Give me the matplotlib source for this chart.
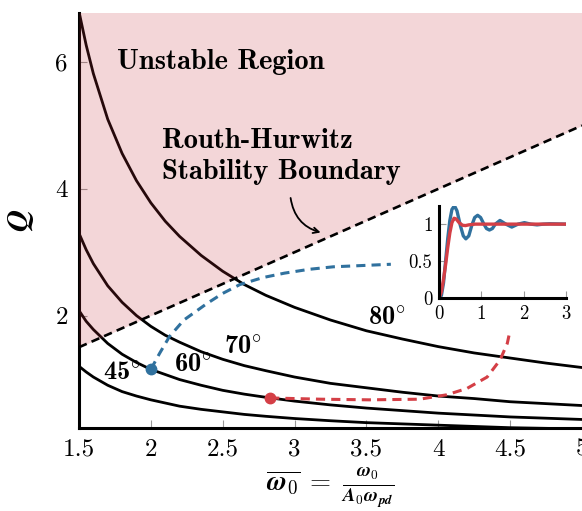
import matplotlib
matplotlib.use("Agg")
import matplotlib.pyplot as plt

plt.rcParams["font.family"] = "serif"
plt.rcParams["font.serif"] = ["cmr10"]
plt.rcParams["mathtext.fontset"] = "cm"
plt.rcParams["axes.formatter.use_mathtext"] = True

# normalised frequency samples
w0 = [1.5, 1.55, 1.6, 1.7, 1.8, 1.9, 2.0, 2.1, 2.2, 2.35, 2.5, 2.65, 2.8,
      3.0, 3.25, 3.5, 3.75, 4.0, 4.25, 4.5, 4.75, 5.0]

# Q for constant phase margin
q80 = [6.80, 6.27, 5.82, 5.10, 4.56, 4.13, 3.78, 3.49, 3.25, 2.95, 2.70, 2.49,
       2.32, 2.13, 1.93, 1.76, 1.63, 1.51, 1.41, 1.33, 1.25, 1.18]
q70 = [3.30, 3.04, 2.82, 2.47, 2.21, 2.00, 1.83, 1.69, 1.58, 1.43, 1.31, 1.21,
       1.13, 1.03, 0.93, 0.86, 0.79, 0.73, 0.69, 0.64, 0.61, 0.58]
q60 = [2.08, 1.91, 1.78, 1.56, 1.39, 1.26, 1.15, 1.07, 0.99, 0.90, 0.82, 0.76,
       0.71, 0.65, 0.59, 0.54, 0.50, 0.46, 0.43, 0.40, 0.38, 0.36]
q45 = [1.20, 1.11, 1.03, 0.90, 0.80, 0.73, 0.67, 0.62, 0.57, 0.52, 0.48, 0.44,
       0.41, 0.375, 0.34, 0.31, 0.29, 0.27, 0.25, 0.23, 0.22, 0.21]
pm_labels = ["45", "60", "70", "80"]
pm_label_pos = [(1.80, 1.09), (2.29, 1.22), (2.64, 1.50), (3.64, 1.96)]

# Routh-Hurwitz boundary Q = w0
rh_x = [1.5, 5.0]
rh_q = [1.5, 5.0]

# design trajectories
blue_x = [2.0, 2.06, 2.13, 2.23, 2.39, 2.50, 2.62, 2.78, 2.93, 3.10, 3.27, 3.47, 3.67]
blue_q = [1.15, 1.40, 1.67, 1.93, 2.19, 2.35, 2.49, 2.60, 2.67, 2.73, 2.77, 2.79, 2.81]
red_x = [2.83, 3.0, 3.18, 3.52, 3.87, 4.06, 4.20, 4.34, 4.43, 4.48, 4.50]
red_q = [0.70, 0.69, 0.68, 0.67, 0.68, 0.75, 0.85, 1.03, 1.30, 1.56, 1.77]

# step responses (inset)
t_blue = [0, 0.05, 0.1, 0.15, 0.2, 0.25, 0.3, 0.36, 0.42, 0.5, 0.57, 0.63, 0.7,
          0.77, 0.84, 0.91, 0.98, 1.05, 1.12, 1.19, 1.26, 1.33, 1.44, 1.58, 1.72,
          1.87, 2.02, 2.17, 2.32, 2.47, 2.62, 3.0]
y_blue = [0, 0.03, 0.2, 0.5, 0.8, 1.05, 1.2, 1.25, 1.18, 0.98, 0.84, 0.80, 0.84,
          0.98, 1.09, 1.12, 1.09, 1.01, 0.94, 0.92, 0.94, 1.0, 1.05, 1.0, 0.96,
          1.0, 1.02, 1.0, 0.99, 1.0, 1.005, 1.0]
t_red = [0, 0.05, 0.1, 0.15, 0.2, 0.25, 0.3, 0.35, 0.4, 0.47, 0.55, 0.62, 0.7, 0.85, 3.0]
y_red = [0, 0.08, 0.25, 0.45, 0.68, 0.88, 1.02, 1.08, 1.07, 1.02, 0.985, 0.98, 0.99, 1.0, 1.0]

BLUE = "#30719e"
RED = "#d43f46"

fig = plt.figure(figsize=(5.82, 5.11), dpi=100)
ax = fig.add_axes([0.1357, 0.163, 0.8643, 0.812])

for q in (q45, q60, q70, q80):
    ax.plot(w0, q, color="black", lw=2.0, zorder=2)

ax.fill_between(rh_x, rh_q, [7, 7], color="#c3323c", alpha=0.2, lw=0, zorder=3)
ax.plot(rh_x, rh_q, color="black", lw=1.9, dashes=(3.2, 2.0), zorder=4)

ax.plot(blue_x, blue_q, color=BLUE, lw=2.2, dashes=(3, 2), zorder=4)
ax.plot(red_x, red_q, color=RED, lw=2.2, dashes=(3, 2), zorder=4)
ax.plot(blue_x[0], blue_q[0], "o", color=BLUE, ms=7.5, zorder=5)
ax.plot(red_x[0], red_q[0], "o", color=RED, ms=7.5, zorder=5)

for lab, (px, py) in zip(pm_labels, pm_label_pos):
    ax.text(px, py, lab + r"$^{\circ}$", family="cmb10", fontsize=19,
            ha="center", va="center", zorder=6)

ax.text(1.762, 5.89, "Unstable Region", family="cmb10", fontsize=20.5,
        ha="left", va="baseline", zorder=6)
ax.text(2.075, 4.64, "Routh-Hurwitz", family="cmb10", fontsize=20.5,
        ha="left", va="baseline", zorder=6)
ax.text(2.075, 4.16, "Stability Boundary", family="cmb10", fontsize=20.5,
        ha="left", va="baseline", zorder=6)
ax.annotate("", xy=(3.2, 3.30), xytext=(2.97, 3.90),
            arrowprops=dict(arrowstyle="->", color="black", lw=1.3,
                            connectionstyle="arc3,rad=0.35"), zorder=6)

ax.set_xlim(1.5, 5)
ax.set_ylim(0.23, 6.78)
ax.set_xticks([1.5, 2, 2.5, 3, 3.5, 4, 4.5, 5])
ax.set_xticklabels(["1.5", "2", "2.5", "3", "3.5", "4", "4.5", "5"])
ax.set_yticks([2, 4, 6])
ax.set_yticklabels(["2", "4", "6"])
ax.tick_params(direction="in", length=6, width=0.8, color="#999999",
               labelsize=18, pad=8)
for s in ("top", "right"):
    ax.spines[s].set_visible(False)
for s in ("left", "bottom"):
    ax.spines[s].set_linewidth(2.2)
ax.set_xlabel(r"$\overline{\boldsymbol{\omega}_\mathbf{0}}\;=\;"
              r"\frac{\boldsymbol{\omega}_\mathbf{0}}"
              r"{\boldsymbol{A}_\mathbf{0}\boldsymbol{\omega}_{\boldsymbol{pd}}}$",
              fontsize=19.5, labelpad=3)
ax.set_ylabel(r"$\boldsymbol{Q}$", fontsize=22, labelpad=14)

# inset with step responses
ins = fig.add_axes([0.7548, 0.4174, 0.2172, 0.180])
ins.plot(t_blue, y_blue, color=BLUE, lw=2.4)
ins.plot(t_red, y_red, color=RED, lw=2.4)
ins.set_xlim(0, 3)
ins.set_ylim(0, 1.25)
ins.set_xticks([0, 1, 2, 3])
ins.set_xticklabels(["0", "1", "2", "3"])
ins.set_yticks([0, 0.5, 1])
ins.set_yticklabels(["0", "0.5", "1"])
ins.tick_params(direction="in", length=5, width=0.8, color="#999999",
                labelsize=13.5, pad=5)
for s in ("top", "right"):
    ins.spines[s].set_visible(False)
for s in ("left", "bottom"):
    ins.spines[s].set_linewidth(2.2)
ins.patch.set_alpha(0)

fig.savefig("out.png", dpi=100)
